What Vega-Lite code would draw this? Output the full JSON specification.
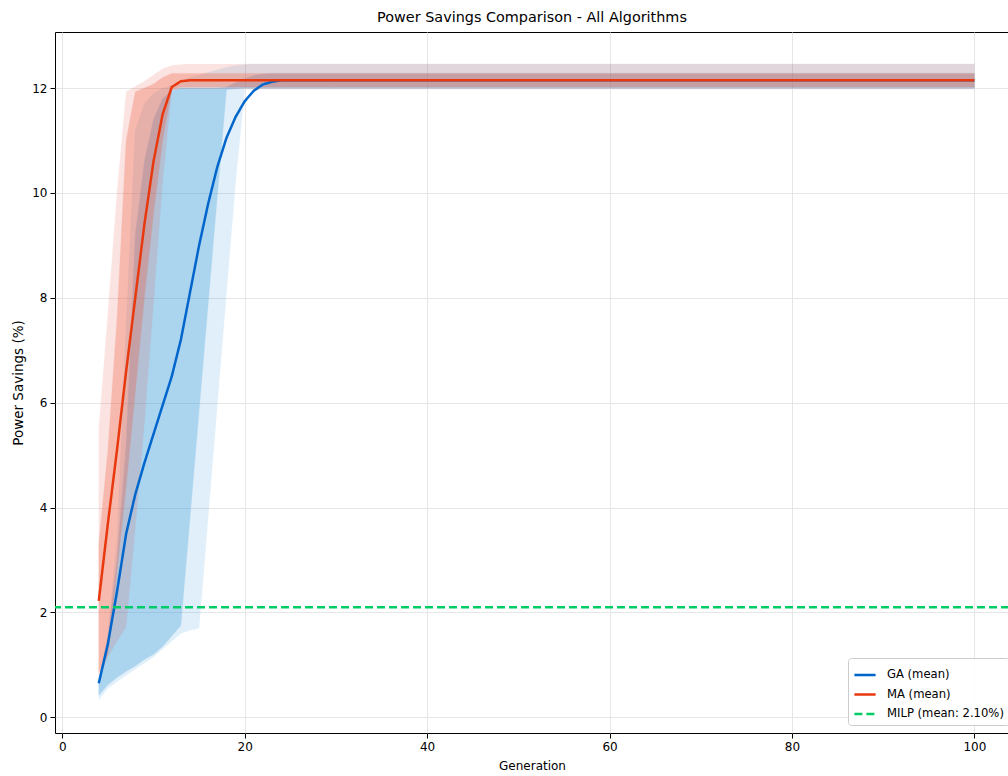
{
  "$schema": "https://vega.github.io/schema/vega-lite/v6.json",
  "autosize": {"type": "none"},
  "padding": {"left": 55, "top": 32, "right": 0, "bottom": 43},
  "width": 954,
  "height": 701,
  "title": {"text": "Power Savings Comparison - All Algorithms", "fontSize": 14.4, "fontWeight": "normal", "color": "#000", "offset": 7},
  "config": {
    "font": "DejaVu Sans",
    "view": {"stroke": "#000", "strokeWidth": 1},
    "axis": {"domain": false, "grid": true, "gridColor": "#e6e6e6", "gridWidth": 1, "tickColor": "#000", "tickSize": 5, "labelFontSize": 12, "titleFontSize": 12, "titleFontWeight": "normal", "labelColor": "#000", "titleColor": "#000", "labelPadding": 3}
  },
  "data": {"values": [
    {"gen": 4, "ga_mean": 0.65, "ga_lo": 0.42, "ga_hi": 0.68, "ga_min": 0.34, "ga_max": 0.7, "ma_mean": 2.22, "ma_lo": 0.85, "ma_hi": 3.3, "ma_min": 0.75, "ma_max": 5.5},
    {"gen": 5, "ga_mean": 1.4, "ga_lo": 0.62, "ga_hi": 1.5, "ga_min": 0.55, "ga_max": 1.6, "ma_mean": 3.7, "ma_lo": 1.2, "ma_hi": 5.1, "ma_min": 1.15, "ma_max": 7.7},
    {"gen": 6, "ga_mean": 2.4, "ga_lo": 0.76, "ga_hi": 3.0, "ga_min": 0.68, "ga_max": 3.4, "ma_mean": 5.1, "ma_lo": 2.8, "ma_hi": 7.6, "ma_min": 1.45, "ma_max": 10.0},
    {"gen": 7, "ga_mean": 3.5, "ga_lo": 0.88, "ga_hi": 5.2, "ga_min": 0.8, "ga_max": 7.5, "ma_mean": 6.6, "ma_lo": 4.4, "ma_hi": 11.0, "ma_min": 1.72, "ma_max": 11.93},
    {"gen": 8, "ga_mean": 4.25, "ga_lo": 0.98, "ga_hi": 9.2, "ga_min": 0.92, "ga_max": 11.2, "ma_mean": 8.0, "ma_lo": 6.2, "ma_hi": 11.93, "ma_min": 3.6, "ma_max": 12.03},
    {"gen": 9, "ga_mean": 4.85, "ga_lo": 1.1, "ga_hi": 10.6, "ga_min": 1.03, "ga_max": 11.7, "ma_mean": 9.4, "ma_lo": 8.0, "ma_hi": 12.0, "ma_min": 5.6, "ma_max": 12.13},
    {"gen": 10, "ga_mean": 5.4, "ga_lo": 1.2, "ga_hi": 11.4, "ga_min": 1.15, "ga_max": 11.9, "ma_mean": 10.6, "ma_lo": 9.6, "ma_hi": 12.08, "ma_min": 7.9, "ma_max": 12.25},
    {"gen": 11, "ga_mean": 5.95, "ga_lo": 1.35, "ga_hi": 11.8, "ga_min": 1.3, "ga_max": 12.0, "ma_mean": 11.5, "ma_lo": 11.0, "ma_hi": 12.2, "ma_min": 10.2, "ma_max": 12.37},
    {"gen": 12, "ga_mean": 6.5, "ga_lo": 1.55, "ga_hi": 11.95, "ga_min": 1.45, "ga_max": 12.05, "ma_mean": 12.02, "ma_lo": 11.97, "ma_hi": 12.28, "ma_min": 11.95, "ma_max": 12.43},
    {"gen": 13, "ga_mean": 7.2, "ga_lo": 1.75, "ga_hi": 12.0, "ga_min": 1.6, "ga_max": 12.15, "ma_mean": 12.13, "ma_lo": 12.02, "ma_hi": 12.28, "ma_min": 11.99, "ma_max": 12.45},
    {"gen": 14, "ga_mean": 8.1, "ga_lo": 3.8, "ga_hi": 12.0, "ga_min": 1.66, "ga_max": 12.2, "ma_mean": 12.15, "ma_lo": 12.02, "ma_hi": 12.28, "ma_min": 11.99, "ma_max": 12.46},
    {"gen": 15, "ga_mean": 9.0, "ga_lo": 5.85, "ga_hi": 12.0, "ga_min": 1.7, "ga_max": 12.25, "ma_mean": 12.15, "ma_lo": 12.02, "ma_hi": 12.28, "ma_min": 11.99, "ma_max": 12.46},
    {"gen": 16, "ga_mean": 9.8, "ga_lo": 7.9, "ga_hi": 12.0, "ga_min": 3.83, "ga_max": 12.3, "ma_mean": 12.15, "ma_lo": 12.02, "ma_hi": 12.28, "ma_min": 11.99, "ma_max": 12.46},
    {"gen": 17, "ga_mean": 10.5, "ga_lo": 9.95, "ga_hi": 12.0, "ga_min": 5.96, "ga_max": 12.35, "ma_mean": 12.15, "ma_lo": 12.02, "ma_hi": 12.28, "ma_min": 11.99, "ma_max": 12.46},
    {"gen": 18, "ga_mean": 11.05, "ga_lo": 11.97, "ga_hi": 12.02, "ga_min": 8.09, "ga_max": 12.4, "ma_mean": 12.15, "ma_lo": 12.02, "ma_hi": 12.28, "ma_min": 11.99, "ma_max": 12.46},
    {"gen": 19, "ga_mean": 11.45, "ga_lo": 11.99, "ga_hi": 12.1, "ga_min": 10.2, "ga_max": 12.43, "ma_mean": 12.15, "ma_lo": 12.02, "ma_hi": 12.28, "ma_min": 11.99, "ma_max": 12.46},
    {"gen": 20, "ga_mean": 11.75, "ga_lo": 12.0, "ga_hi": 12.18, "ga_min": 11.98, "ga_max": 12.45, "ma_mean": 12.15, "ma_lo": 12.02, "ma_hi": 12.28, "ma_min": 11.99, "ma_max": 12.46},
    {"gen": 21, "ga_mean": 11.95, "ga_lo": 12.0, "ga_hi": 12.24, "ga_min": 11.98, "ga_max": 12.46, "ma_mean": 12.15, "ma_lo": 12.02, "ma_hi": 12.28, "ma_min": 11.99, "ma_max": 12.46},
    {"gen": 22, "ga_mean": 12.07, "ga_lo": 12.0, "ga_hi": 12.27, "ga_min": 11.98, "ga_max": 12.46, "ma_mean": 12.15, "ma_lo": 12.02, "ma_hi": 12.28, "ma_min": 11.99, "ma_max": 12.46},
    {"gen": 23, "ga_mean": 12.12, "ga_lo": 12.0, "ga_hi": 12.28, "ga_min": 11.98, "ga_max": 12.46, "ma_mean": 12.15, "ma_lo": 12.02, "ma_hi": 12.28, "ma_min": 11.99, "ma_max": 12.46},
    {"gen": 24, "ga_mean": 12.15, "ga_lo": 12.0, "ga_hi": 12.28, "ga_min": 11.98, "ga_max": 12.46, "ma_mean": 12.15, "ma_lo": 12.02, "ma_hi": 12.28, "ma_min": 11.99, "ma_max": 12.46},
    {"gen": 30, "ga_mean": 12.15, "ga_lo": 12.0, "ga_hi": 12.28, "ga_min": 11.98, "ga_max": 12.46, "ma_mean": 12.15, "ma_lo": 12.02, "ma_hi": 12.28, "ma_min": 11.99, "ma_max": 12.46},
    {"gen": 40, "ga_mean": 12.15, "ga_lo": 12.0, "ga_hi": 12.28, "ga_min": 11.98, "ga_max": 12.46, "ma_mean": 12.15, "ma_lo": 12.02, "ma_hi": 12.28, "ma_min": 11.99, "ma_max": 12.46},
    {"gen": 50, "ga_mean": 12.15, "ga_lo": 12.0, "ga_hi": 12.28, "ga_min": 11.98, "ga_max": 12.46, "ma_mean": 12.15, "ma_lo": 12.02, "ma_hi": 12.28, "ma_min": 11.99, "ma_max": 12.46},
    {"gen": 60, "ga_mean": 12.15, "ga_lo": 12.0, "ga_hi": 12.28, "ga_min": 11.98, "ga_max": 12.46, "ma_mean": 12.15, "ma_lo": 12.02, "ma_hi": 12.28, "ma_min": 11.99, "ma_max": 12.46},
    {"gen": 70, "ga_mean": 12.15, "ga_lo": 12.0, "ga_hi": 12.28, "ga_min": 11.98, "ga_max": 12.46, "ma_mean": 12.15, "ma_lo": 12.02, "ma_hi": 12.28, "ma_min": 11.99, "ma_max": 12.46},
    {"gen": 80, "ga_mean": 12.15, "ga_lo": 12.0, "ga_hi": 12.28, "ga_min": 11.98, "ga_max": 12.46, "ma_mean": 12.15, "ma_lo": 12.02, "ma_hi": 12.28, "ma_min": 11.99, "ma_max": 12.46},
    {"gen": 90, "ga_mean": 12.15, "ga_lo": 12.0, "ga_hi": 12.28, "ga_min": 11.98, "ga_max": 12.46, "ma_mean": 12.15, "ma_lo": 12.02, "ma_hi": 12.28, "ma_min": 11.99, "ma_max": 12.46},
    {"gen": 100, "ga_mean": 12.15, "ga_lo": 12.0, "ga_hi": 12.28, "ga_min": 11.98, "ga_max": 12.46, "ma_mean": 12.15, "ma_lo": 12.02, "ma_hi": 12.28, "ma_min": 11.99, "ma_max": 12.46}
  ]},
  "encoding": {
    "x": {"field": "gen", "type": "quantitative", "scale": {"domain": [-0.8, 103.8], "nice": false, "zero": false},
          "axis": {"title": "Generation", "values": [0, 20, 40, 60, 80, 100], "titlePadding": 8}}
  },
  "layer": [
    {"mark": {"type": "area", "color": "#3498db", "opacity": 0.15, "stroke": "#3498db", "strokeWidth": 1, "strokeOpacity": 0.15},
     "encoding": {"y": {"field": "ga_min", "type": "quantitative", "scale": {"domain": [-0.3, 13.07], "nice": false, "zero": false},
                        "axis": {"title": "Power Savings (%)", "values": [0, 2, 4, 6, 8, 10, 12], "titlePadding": 6, "titleFontSize": 13.5}},
                  "y2": {"field": "ga_max"}}},
    {"mark": {"type": "area", "color": "#3498db", "opacity": 0.3, "stroke": "#3498db", "strokeWidth": 1, "strokeOpacity": 0.3},
     "encoding": {"y": {"field": "ga_lo", "type": "quantitative"}, "y2": {"field": "ga_hi"}}},
    {"mark": {"type": "area", "color": "#e74c3c", "opacity": 0.15, "stroke": "#e74c3c", "strokeWidth": 1, "strokeOpacity": 0.15},
     "encoding": {"y": {"field": "ma_min", "type": "quantitative"}, "y2": {"field": "ma_max"}}},
    {"mark": {"type": "area", "color": "#f0583a", "opacity": 0.3, "stroke": "#f0583a", "strokeWidth": 1, "strokeOpacity": 0.3},
     "encoding": {"y": {"field": "ma_lo", "type": "quantitative"}, "y2": {"field": "ma_hi"}}},
    {"transform": [{"fold": ["ga_mean", "ma_mean"], "as": ["series", "value"]}],
     "mark": {"type": "line", "strokeWidth": 2.5},
     "encoding": {
       "y": {"field": "value", "type": "quantitative"},
       "color": {"field": "series", "type": "nominal",
                 "scale": {"domain": ["ga_mean", "ma_mean", "milp"], "range": ["#0066cc", "#e8380d", "#00cc66"]},
                 "legend": {"title": null, "orient": "none", "legendX": 793, "legendY": 626,
                            "labelExpr": "datum.value == 'ga_mean' ? 'GA (mean)' : datum.value == 'ma_mean' ? 'MA (mean)' : 'MILP (mean: 2.10%)'",
                            "symbolType": "stroke", "symbolStrokeWidth": 2.5, "symbolSize": 450, "labelFontSize": 11.6, "labelColor": "#000",
                            "padding": 5, "rowPadding": 1.5, "labelOffset": 10, "strokeColor": "#cccccc", "fillColor": "rgba(255,255,255,0.85)", "cornerRadius": 3}},
       "strokeDash": {"field": "series", "type": "nominal",
                      "scale": {"domain": ["ga_mean", "ma_mean", "milp"], "range": [[1, 0], [1, 0], [8, 4]]}}
     }},
    {"data": {"values": [{"series": "milp", "value": 2.1}]},
     "mark": {"type": "rule", "strokeWidth": 2.5},
     "encoding": {
       "x": null,
       "y": {"field": "value", "type": "quantitative"},
       "color": {"field": "series", "type": "nominal"},
       "strokeDash": {"field": "series", "type": "nominal"}
     }}
  ]
}
